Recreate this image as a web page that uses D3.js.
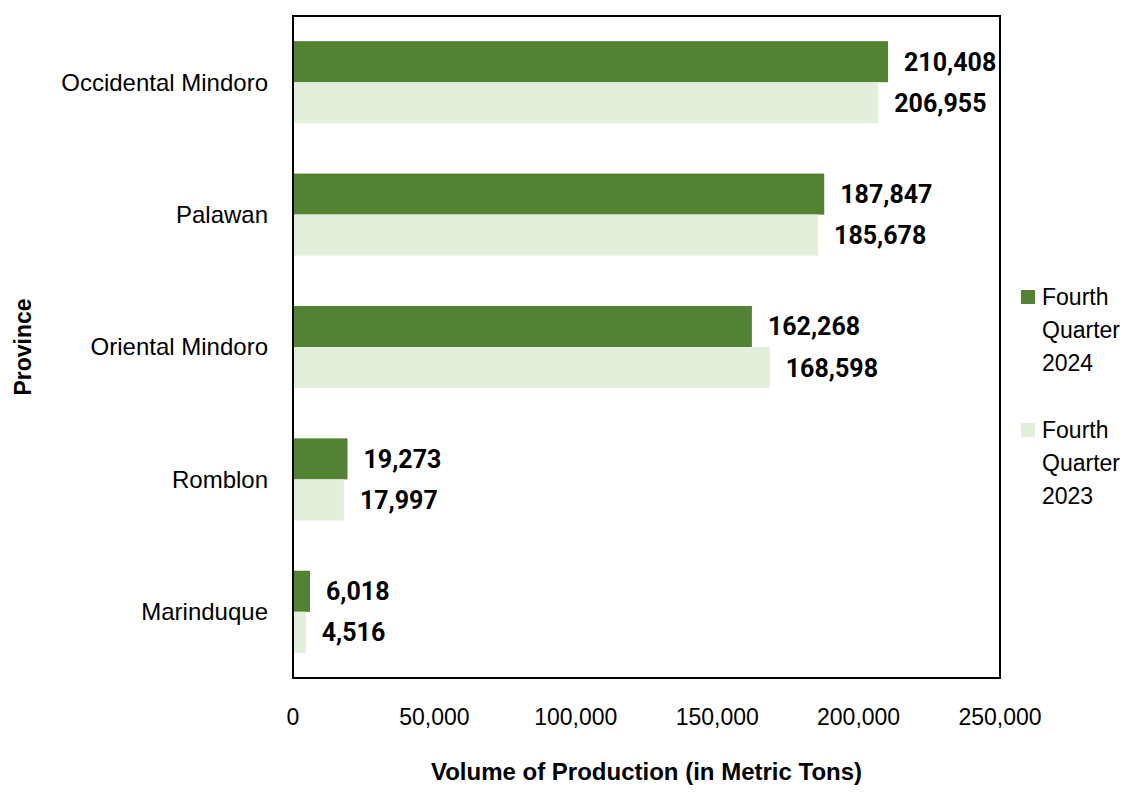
<!DOCTYPE html>
<html>
<head>
<meta charset="utf-8">
<script src="https://cdn.jsdelivr.net/npm/d3@7"></script>
<style>
  body { margin: 0; background: #fff; }
  svg text { font-family: "Liberation Sans", Arial, sans-serif; fill: #000; }
  .val { font-family: Roboto, "DejaVu Sans", sans-serif; font-weight: 700; }
</style>
</head>
<body>
<div id="chart"></div>
<script>
var provinces = ["Occidental Mindoro", "Palawan", "Oriental Mindoro", "Romblon", "Marinduque"];
var q4_2024 = [210408, 187847, 162268, 19273, 6018];
var q4_2023 = [206955, 185678, 168598, 17997, 4516];
var seriesNames = ["Fourth Quarter 2024", "Fourth Quarter 2023"];
var seriesColors = ["#548235", "#e2efda"];
var xTicks = [0, 50000, 100000, 150000, 200000, 250000];

var width = 1126, height = 796;
var plotLeft = 293, plotRight = 1000, plotTop = 16, plotBottom = 678;

var svg = d3.select('#chart').append('svg')
  .attr('width', width)
  .attr('height', height);

var x = d3.scaleLinear().domain([0, 250000]).range([plotLeft, plotRight]);
var y = d3.scaleBand().domain(provinces).range([plotTop, plotBottom])
  .paddingInner(0.38).paddingOuter(0.19);
var inner = d3.scaleBand().domain([0, 1]).range([0, y.bandwidth()]);

var fmt = d3.format(',');

var rows = provinces.map(function (p, i) {
  return { name: p, vals: [q4_2024[i], q4_2023[i]] };
});

var group = svg.selectAll('.prov')
  .data(rows)
  .enter().append('g')
  .attr('class', 'prov')
  .attr('transform', function (d) { return 'translate(0,' + y(d.name) + ')'; });

var bar = group.selectAll('.bar')
  .data(function (d) { return d.vals.map(function (v, k) { return { v: v, k: k }; }); })
  .enter();

bar.append('rect')
  .attr('x', x(0))
  .attr('y', function (d) { return inner(d.k); })
  .attr('width', function (d) { return x(d.v) - x(0); })
  .attr('height', inner.bandwidth())
  .attr('fill', function (d) { return seriesColors[d.k]; });

bar.append('text')
  .attr('class', 'val')
  .attr('x', function (d) { return x(d.v) + 16; })
  .attr('y', function (d) { return inner(d.k) + inner.bandwidth() / 2; })
  .attr('dy', '0.36em')
  .style('font-size', '25px')
  .text(function (d) { return fmt(d.v); });

// frame
svg.append('rect')
  .attr('x', plotLeft).attr('y', plotTop)
  .attr('width', plotRight - plotLeft).attr('height', plotBottom - plotTop)
  .attr('fill', 'none')
  .attr('stroke', '#000')
  .attr('stroke-width', 2);

// category labels
svg.selectAll('.cat')
  .data(provinces)
  .enter().append('text')
  .attr('class', 'cat')
  .attr('x', 268)
  .attr('y', function (d) { return y(d) + y.bandwidth() / 2; })
  .attr('dy', '0.35em')
  .attr('text-anchor', 'end')
  .style('font-size', '24px')
  .text(function (d) { return d; });

// x tick labels
svg.selectAll('.tick')
  .data(xTicks)
  .enter().append('text')
  .attr('class', 'tick')
  .attr('x', function (d) { return x(d); })
  .attr('y', 717)
  .attr('dy', '0.35em')
  .attr('text-anchor', 'middle')
  .style('font-size', '23px')
  .text(function (d) { return fmt(d); });

// axis titles
svg.append('text')
  .attr('x', (plotLeft + plotRight) / 2)
  .attr('y', 772)
  .attr('dy', '0.35em')
  .attr('text-anchor', 'middle')
  .style('font-size', '24px')
  .style('font-weight', 'bold')
  .text('Volume of Production (in Metric Tons)');

svg.append('text')
  .attr('transform', 'translate(23,' + ((plotTop + plotBottom) / 2) + ') rotate(-90)')
  .attr('dy', '0.35em')
  .attr('text-anchor', 'middle')
  .style('font-size', '23px')
  .style('font-weight', 'bold')
  .text('Province');

// legend
var legend = svg.selectAll('.legend')
  .data(seriesNames)
  .enter().append('g')
  .attr('class', 'legend')
  .attr('transform', function (d, i) { return 'translate(1021,' + (297 + i * 133) + ')'; });

legend.append('rect')
  .attr('x', 0).attr('y', -7)
  .attr('width', 14).attr('height', 14)
  .attr('fill', function (d, i) { return seriesColors[i]; });

legend.append('text')
  .attr('x', 21)
  .style('font-size', '23px')
  .selectAll('tspan')
  .data(function (d) { return ['Fourth', 'Quarter', d.split(' ')[2]]; })
  .enter().append('tspan')
  .attr('x', 21)
  .attr('y', function (d, j) { return j * 33; })
  .attr('dy', '0.35em')
  .text(function (d) { return d; });
</script>
</body>
</html>
